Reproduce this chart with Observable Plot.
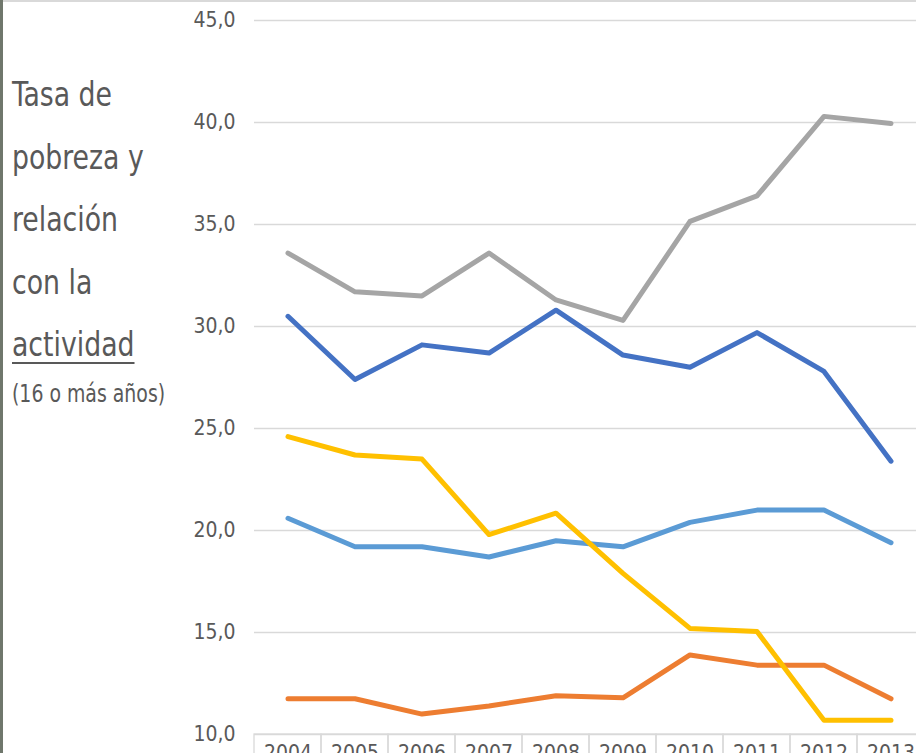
<!DOCTYPE html>
<html>
<head>
<meta charset="utf-8">
<script src="https://cdn.jsdelivr.net/npm/d3@7"></script>
<script src="https://cdn.jsdelivr.net/npm/@observablehq/plot@0.6"></script>
<style>
  html, body { margin: 0; padding: 0; background: #fff; overflow: hidden; }
  #wrap { position: relative; width: 916px; height: 753px; overflow: hidden; background: #fff; }
  #wrap svg { display: block; }
  .frame-left { position: absolute; left: 0; top: 0; width: 3px; height: 753px; background: #6f776c; }
  .frame-top { position: absolute; left: 0; top: 0; width: 916px; height: 2px; background: #d9d9d9; }
  #title { position: absolute; left: 12px; top: 64px; font-family: "DejaVu Sans Condensed", sans-serif; font-size: 33px; line-height: 62.5px; color: #595959; transform: scaleX(0.9); transform-origin: 0 0; white-space: nowrap; }
  #title u { text-decoration-thickness: 2px; text-underline-offset: 6px; }
  #subtitle { position: absolute; left: 12px; top: 381px; font-family: "DejaVu Sans Condensed", sans-serif; font-size: 25px; line-height: 25px; color: #595959; transform: scaleX(0.84); transform-origin: 0 0; white-space: nowrap; }
</style>
</head>
<body>
<div id="wrap">
  <div id="chart"></div>
  <div class="frame-top"></div>
  <div class="frame-left"></div>
  <div id="title">Tasa de<br>pobreza y<br>relación<br>con la<br><u>actividad</u></div>
  <div id="subtitle">(16 o más años)</div>
</div>
<script>
const years = ["2004", "2005", "2006", "2007", "2008", "2009", "2010", "2011", "2012", "2013"];
const yTicks = [10, 15, 20, 25, 30, 35, 40, 45];

const seriesNames = ["Otros inactivos", "Ocupados", "Parados", "Total", "Jubilados"];
const seriesColors = ["#4472C4", "#ED7D31", "#A5A5A5", "#5B9BD5", "#FFC000"];

const otrosInactivos = [30.5, 27.4, 29.1, 28.7, 30.8, 28.6, 28.0, 29.7, 27.8, 23.4];
const ocupados       = [11.75, 11.75, 11.0, 11.4, 11.9, 11.8, 13.9, 13.4, 13.4, 11.75];
const parados        = [33.6, 31.7, 31.5, 33.6, 31.3, 30.3, 35.15, 36.4, 40.3, 39.95];
const total          = [20.6, 19.2, 19.2, 18.7, 19.5, 19.2, 20.4, 21.0, 21.0, 19.4];
const jubilados      = [24.6, 23.7, 23.5, 19.8, 20.85, 17.9, 15.2, 15.05, 10.7, 10.7];

const seriesValues = [otrosInactivos, ocupados, parados, total, jubilados];

const data = seriesNames.flatMap((name, s) =>
  years.map((year, i) => ({year, value: seriesValues[s][i], serie: name}))
);

const fmt = d => d.toFixed(1).replace(".", ",");
const font = '"DejaVu Sans Condensed", sans-serif';

const chart = Plot.plot({
  width: 916,
  height: 753,
  marginLeft: 254,
  marginRight: -8,
  marginTop: 20,
  marginBottom: 19,
  style: {fontFamily: font, fontSize: "21px", color: "#595959", background: "white", overflow: "hidden"},
  x: {type: "band", domain: years, padding: 0},
  y: {domain: [10, 45]},
  color: {domain: seriesNames, range: seriesColors},
  marks: [
    Plot.gridY(yTicks, {stroke: "#d9d9d9", strokeOpacity: 1, strokeWidth: 1.3}),
    Plot.axisY(yTicks, {tickSize: 0, tickPadding: 19, tickFormat: fmt, fontSize: 21, fill: "#595959", label: null}),
    Plot.barY(years, {x: d => d, y1: 10, y2: 10, insetBottom: -20, fill: "none", stroke: "#d9d9d9", strokeWidth: 1.3}),
    Plot.axisX({tickSize: 0, tickPadding: 11, fontSize: 21, fill: "#595959", label: null}),
    Plot.line(data, {x: "year", y: "value", z: "serie", stroke: "serie", strokeWidth: 5, strokeLinejoin: "round", strokeLinecap: "round"})
  ]
});
document.getElementById("chart").appendChild(chart);
</script>
</body>
</html>
